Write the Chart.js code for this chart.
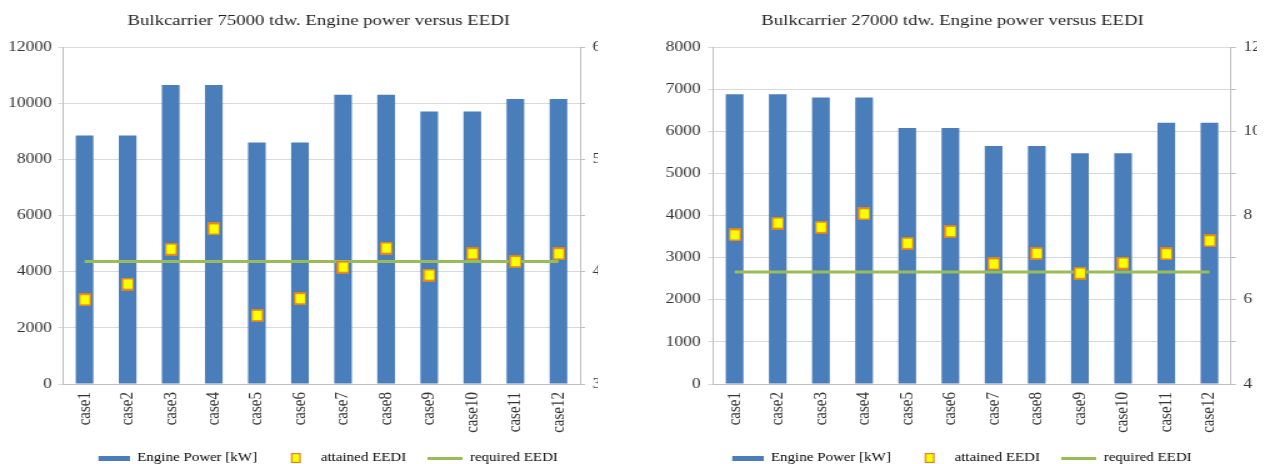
<!DOCTYPE html>
<html>
<head>
<meta charset="utf-8">
<script src="https://cdn.jsdelivr.net/npm/chart.js@4.4.1/dist/chart.umd.min.js"></script>
<style>
  html, body { margin: 0; padding: 0; background: #fff; }
  .clip { position: absolute; top: 0; height: 464px; overflow: hidden; }
  .stretch { transform: scaleX(1.25); transform-origin: 0 0; }
</style>
</head>
<body>
<div class="clip" style="left:0;width:598px"><div class="stretch"><canvas id="chartA" width="510" height="474"></canvas></div></div>
<div class="clip" style="left:630px;width:627px"><div class="stretch"><canvas id="chartB" width="516" height="474"></canvas></div></div>
<script>
const cases = ['case1', 'case2', 'case3', 'case4', 'case5', 'case6', 'case7', 'case8', 'case9', 'case10', 'case11', 'case12'];

// 75000 tdw
const power75 = [8850, 8850, 10650, 10650, 8600, 8600, 10300, 10300, 9700, 9700, 10150, 10150];
const attained75 = [3.75, 3.89, 4.20, 4.38, 3.61, 3.76, 4.04, 4.21, 3.97, 4.16, 4.09, 4.16];
const required75 = [4.09, 4.09, 4.09, 4.09, 4.09, 4.09, 4.09, 4.09, 4.09, 4.09, 4.09, 4.09];

// 27000 tdw
const power27 = [6880, 6880, 6800, 6800, 6080, 6080, 5650, 5650, 5480, 5480, 6200, 6200];
const attained27 = [7.54, 7.82, 7.72, 8.04, 7.34, 7.62, 6.85, 7.10, 6.63, 6.87, 7.09, 7.40];
const required27 = [6.66, 6.66, 6.66, 6.66, 6.66, 6.66, 6.66, 6.66, 6.66, 6.66, 6.66, 6.66];

const seriesNames = ['Engine Power [kW]', 'attained EEDI', 'required EEDI'];

const BLUE = '#4A7EBB';
const YELLOW = '#FFFF00';
const ORANGE = '#D9822B';
const GREEN = '#9BBB59';
const SERIF = "'Liberation Serif', 'DejaVu Serif', serif";

function icon(w, h, draw) {
  const c = document.createElement('canvas');
  c.width = w;
  c.height = h;
  draw(c.getContext('2d'));
  return c;
}

// marker square for attained EEDI (canvas is stretched 1.25x wide)
const markerImg = icon(10.4, 13, (g) => {
  g.fillStyle = ORANGE;
  g.fillRect(0, 0, 10.4, 13);
  g.fillStyle = YELLOW;
  g.fillRect(1.5, 1.8, 7.4, 9.4);
});

// legend icons
const legendBar = icon(40, 5, (g) => { g.fillStyle = BLUE; g.fillRect(15, 0, 25, 5); });
const legendMarker = icon(40, 10, (g) => {
  g.fillStyle = ORANGE; g.fillRect(22, 0, 8, 10);
  g.fillStyle = YELLOW; g.fillRect(23.2, 1.2, 5.6, 7.6);
});
const legendLine = icon(40, 3, (g) => { g.fillStyle = GREEN; g.fillRect(12, 0, 28, 3); });

function makeChart(id, title, power, attained, required, yMax, yStep, y1Min, y1Max, y1Step, y1Labels, yWidth, y1Width, tickPad) {
  const ctx = document.getElementById(id).getContext('2d');

  new Chart(ctx, {
    type: 'bar',
    data: {
      labels: cases,
      datasets: [
        {
          label: seriesNames[0],
          data: power,
          backgroundColor: BLUE,
          barPercentage: 0.41,
          categoryPercentage: 1,
          yAxisID: 'y',
          order: 3,
        },
        {
          type: 'line',
          label: seriesNames[2],
          data: required,
          borderColor: GREEN,
          borderWidth: 3,
          pointRadius: 0,
          fill: false,
          yAxisID: 'y1',
          order: 2,
        },
        {
          type: 'line',
          label: seriesNames[1],
          data: attained,
          showLine: false,
          pointStyle: markerImg,
          pointRadius: 6,
          yAxisID: 'y1',
          order: 1,
        },
      ],
    },
    options: {
      responsive: false,
      animation: false,
      layout: { padding: 0 },
      plugins: {
        title: {
          display: true,
          text: title,
          color: '#222',
          font: { family: SERIF, size: 15, weight: 'normal' },
          padding: { top: 12, bottom: 17 },
        },
        legend: {
          position: 'bottom',
          labels: {
            usePointStyle: true,
            pointStyleWidth: 40,
            padding: 5,
            color: '#222',
            font: { family: SERIF, size: 12 },
            generateLabels: () => [
              { text: seriesNames[0], pointStyle: legendBar, fillStyle: BLUE, strokeStyle: BLUE, lineWidth: 0, hidden: false, datasetIndex: 0 },
              { text: seriesNames[1], pointStyle: legendMarker, fillStyle: YELLOW, strokeStyle: ORANGE, lineWidth: 0, hidden: false, datasetIndex: 2 },
              { text: seriesNames[2], pointStyle: legendLine, fillStyle: GREEN, strokeStyle: GREEN, lineWidth: 0, hidden: false, datasetIndex: 1 },
            ],
          },
        },
        tooltip: { enabled: false },
      },
      scales: {
        x: {
          grid: { display: false, drawTicks: false },
          border: { display: true, color: '#BFBFBF' },
          ticks: {
            minRotation: 90,
            maxRotation: 90,
            padding: 8,
            color: '#333',
            font: { family: SERIF, size: 15 },
          },
          afterFit: (s) => { s.height = 63; },
        },
        y: {
          position: 'left',
          min: 0,
          max: yMax,
          ticks: {
            stepSize: yStep,
            padding: tickPad,
            color: '#333',
            font: { family: SERIF, size: 14 },
            callback: (v) => String(v),
          },
          grid: { color: '#D9D9D9', tickLength: 4 },
          border: { color: '#BFBFBF' },
          afterFit: (s) => { s.width = yWidth; },
        },
        y1: {
          position: 'right',
          min: y1Min,
          max: y1Max,
          ticks: {
            stepSize: y1Step,
            padding: 6,
            color: '#333',
            font: { family: SERIF, size: 14 },
            callback: (v) => (y1Labels.includes(v) ? String(v) : ''),
          },
          grid: { drawOnChartArea: false, color: '#BFBFBF', tickLength: 4 },
          border: { color: '#BFBFBF' },
          afterFit: (s) => { s.width = y1Width; },
        },
      },
    },
  });
}

makeChart('chartA', 'Bulkcarrier 75000 tdw. Engine power versus EEDI',
  power75, attained75, required75, 12000, 2000, 3, 6, 0.5, [3, 4, 5, 6], 50.4, 46, 5);

makeChart('chartB', 'Bulkcarrier 27000 tdw. Engine power versus EEDI',
  power27, attained27, required27, 8000, 1000, 4, 12, 1, [4, 6, 8, 10, 12], 66.4, 35.2, 6);
</script>
</body>
</html>
